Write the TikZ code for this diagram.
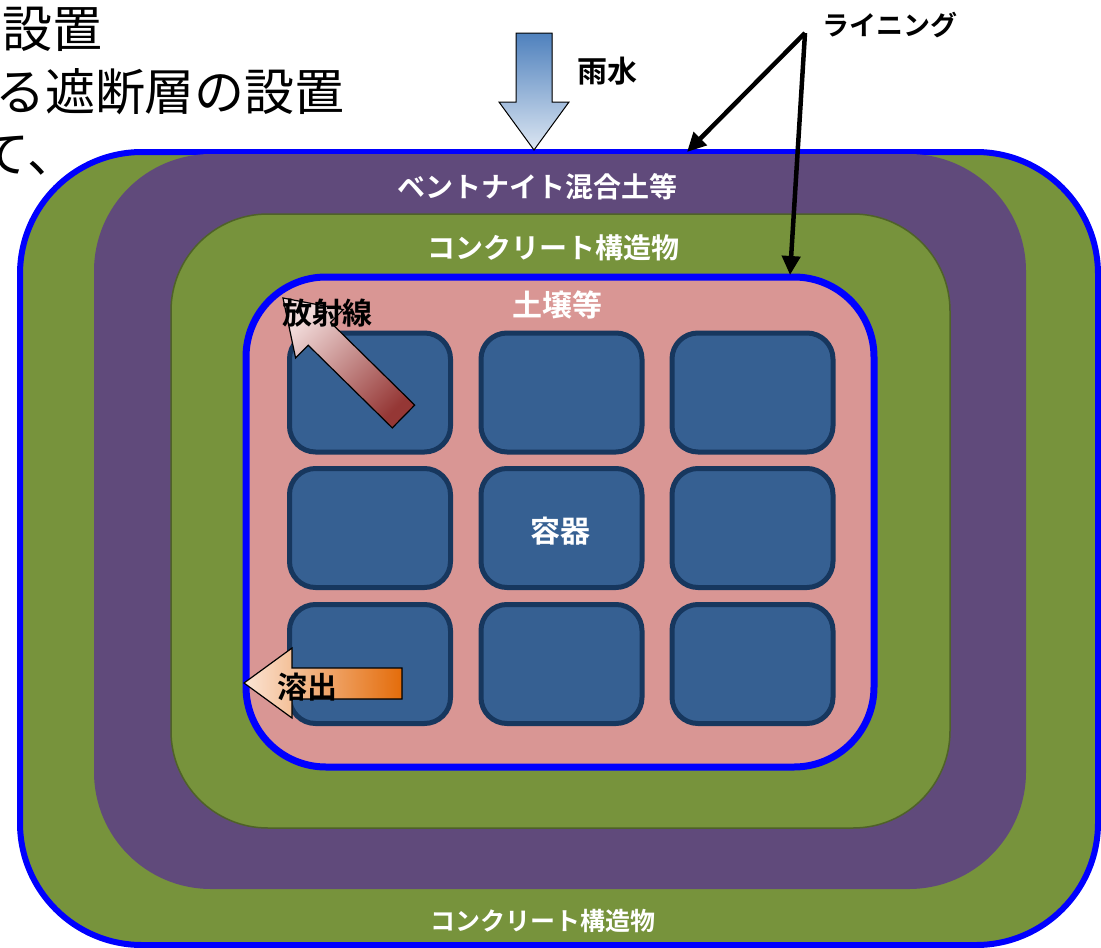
\documentclass[tikz,border=0pt]{standalone}
\usepackage{fontspec}
\setmainfont{Noto Sans CJK JP}[BoldFont={Noto Sans CJK JP Bold}]
\usepackage{tikz}
\usetikzlibrary{arrows.meta}

\definecolor{concrete}{HTML}{77933C}
\definecolor{concreterim}{HTML}{4F6228}
\definecolor{bentonite}{HTML}{604A7B}
\definecolor{soil}{HTML}{D99694}
\definecolor{liner}{HTML}{0000FF}
\definecolor{vessel}{HTML}{366092}
\definecolor{vesselrim}{HTML}{17375E}
\definecolor{rainlight}{HTML}{DCE6F2}
\definecolor{raindark}{HTML}{4F81BD}
\definecolor{raylight}{HTML}{F2DCDB}
\definecolor{raydark}{HTML}{953735}
\definecolor{leachlight}{HTML}{FBE5D6}
\definecolor{leachdark}{HTML}{E46C0A}

\begin{document}
\begin{tikzpicture}[x=1pt, y=-1pt,
        every node/.style={inner sep=0pt, outer sep=0pt},
        layer/.style={rectangle, draw=none},
        vesselbox/.style={rectangle, fill=vessel, draw=vesselrim, line width=5pt, rounded corners=26pt, minimum width=161pt, minimum height=119pt},
        whitelabel/.style={text=white, font=\bfseries\fontsize{28}{32}\selectfont},
        blacklabel/.style={text=black, font=\bfseries\fontsize{30}{34}\selectfont},
        slidetext/.style={text=black, font=\fontsize{50}{60}\selectfont},
        linerarrow/.style={line width=4.5pt, -{Triangle[length=19pt, width=18pt]}}]
        \useasboundingbox (0,0) rectangle (1101,948);

        % Cut-off slide text
        \node (LineA) [slidetext, anchor=east] at (102,29) {設置};
        \node (LineB) [slidetext, anchor=east] at (345,92) {る遮断層の設置};
        \node (LineC) [slidetext, anchor=west] at (-20,156) {て、};

        % Layers
        \node (Outer) [layer, fill=concrete, draw=liner, line width=6pt, rounded corners=122pt, minimum width=1078pt, minimum height=793pt] at (559,548.5) {};
        \node (Bentonite) [layer, fill=bentonite, rounded corners=117pt, minimum width=932pt, minimum height=735pt] at (560,521.5) {};
        \node (Concrete) [layer, fill=concrete, draw=concreterim, line width=1.5pt, rounded corners=97pt, minimum width=779pt, minimum height=614pt] at (560.5,521) {};
        \node (Soil) [layer, fill=soil, draw=liner, line width=7pt, rounded corners=80pt, minimum width=628pt, minimum height=490pt] at (560,522) {};

        % Vessels
        \node (V11) [vesselbox] at (370,392.5) {};
        \node (V12) [vesselbox] at (561.5,392.5) {};
        \node (V13) [vesselbox] at (752.5,392.5) {};
        \node (V21) [vesselbox] at (370,528) {};
        \node (V22) [vesselbox] at (561.5,528) {};
        \node (V23) [vesselbox] at (752.5,528) {};
        \node (V31) [vesselbox] at (370,664) {};
        \node (V32) [vesselbox] at (561.5,664) {};
        \node (V33) [vesselbox] at (752.5,664) {};

        % Layer labels
        \node (BentoniteLabel) [whitelabel] at (537.5,186.5) {ベントナイト混合土等};
        \node (ConcreteLabel) [whitelabel] at (553.5,247.5) {コンクリート構造物};
        \node (SoilLabel) [whitelabel, font=\bfseries\fontsize{30}{34}\selectfont] at (557,305) {土壌等};
        \node (VesselLabel) [whitelabel, font=\bfseries\fontsize{30}{34}\selectfont] at (560,531) {容器};
        \node (OuterLabel) [whitelabel, font=\bfseries\fontsize{25}{30}\selectfont] at (543,921) {コンクリート構造物};

        % Rain
        \filldraw[draw=black, line width=1pt, top color=raindark, bottom color=rainlight]
            (516,33) -- (552,33) -- (552,102) -- (569,102) -- (534,150) -- (499,102) -- (516,102) -- cycle;
        \node (Rain) [blacklabel] at (607,71) {雨水};

        % Radiation
        \filldraw[draw=black, line width=1.2pt, top color=raylight, bottom color=raydark, shading angle=45]
            (283,298) -- (343.2,309.6) -- (330.6,322.4) -- (414.7,405.1) -- (392.3,427.9) -- (308.2,345.2) -- (295.6,358) -- cycle;
        \node (Ray) [blacklabel] at (327,313) {放射線};

        % Leaching
        \filldraw[draw=black, line width=1.2pt, left color=leachlight, right color=leachdark]
            (244,683) -- (292,648) -- (292,668) -- (402,668) -- (402,699) -- (292,699) -- (292,718) -- cycle;
        \node (Leach) [blacklabel] at (307,687) {溶出};

        % Lining
        \node (Lining) [text=black, font=\bfseries\fontsize{27}{30}\selectfont] at (890,25) {ライニング};
        \coordinate (Fork) at (805,33);
        \coordinate (OuterTip) at (687,152);
        \coordinate (SoilTip) at (790,275);
        \draw[linerarrow] (Fork) -- (OuterTip);
        \draw[linerarrow] (Fork) -- (SoilTip);
    \end{tikzpicture}
\end{document}
